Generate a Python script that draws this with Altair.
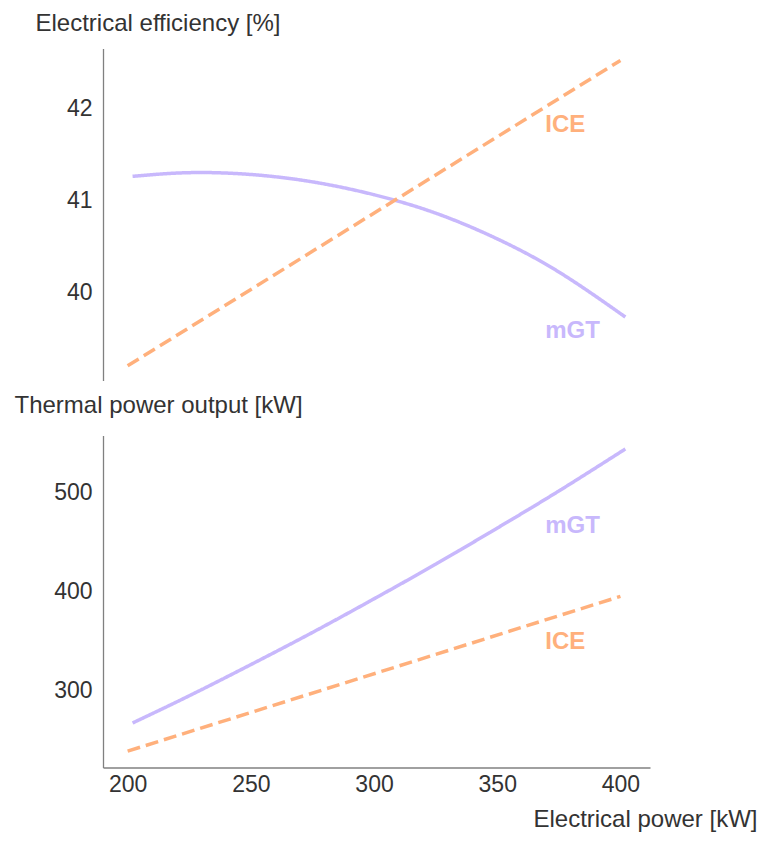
import altair as alt
import pandas as pd

# ---- data ----
x_mgt = [202, 225, 250, 275, 300, 325, 350, 375, 402]
eff_mgt = [41.26, 41.30, 41.28, 41.20, 41.06, 40.86, 40.58, 40.22, 39.73]
th_mgt = [267, 294.5, 326, 358.5, 392.5, 427.5, 464, 501.5, 544]

x_ice = [200, 400]
eff_ice = [39.20, 42.52]
th_ice = [238.5, 395]

lab_series = ["ICE", "mGT"]
lab_x = [369.5, 369.5]
lab_eff = [41.82, 39.58]
lab_th = [348.7, 466.6]

PURPLE = "#c8b8fc"
ORANGE = "#ffb07c"
FONT = "Liberation Sans"

eff_df = pd.DataFrame(
    {"x": x_mgt + x_ice, "y": eff_mgt + eff_ice,
     "series": ["mGT"] * len(x_mgt) + ["ICE"] * len(x_ice)})
th_df = pd.DataFrame(
    {"x": x_mgt + x_ice, "y": th_mgt + th_ice,
     "series": ["mGT"] * len(x_mgt) + ["ICE"] * len(x_ice)})
lab_eff_df = pd.DataFrame({"x": lab_x, "y": lab_eff, "series": lab_series})
lab_th_df = pd.DataFrame({"x": lab_x, "y": lab_th, "series": lab_series})

color = alt.Color("series:N", scale=alt.Scale(domain=["mGT", "ICE"], range=[PURPLE, ORANGE]), legend=None)
dash = alt.StrokeDash("series:N", scale=alt.Scale(domain=["mGT", "ICE"], range=[[1, 0], [13, 6]]), legend=None)
xscale = alt.Scale(domain=[190, 412], nice=False, zero=False)

W, H = 547, 332


def panel(df, labdf, ydomain, yvals, ytitle, tx, ty, show_x):
    if show_x:
        xenc = alt.X("x:Q", scale=xscale, axis=alt.Axis(
            values=[200, 250, 300, 350, 400], format="d", title="Electrical power [kW]",
            titleX=654, titleY=52, titleAlign="right", titleBaseline="middle"))
    else:
        xenc = alt.X("x:Q", scale=xscale, axis=None)
    yenc = alt.Y("y:Q", scale=alt.Scale(domain=ydomain, nice=False, zero=False),
                 axis=alt.Axis(values=yvals, format="d", title=ytitle, titleAngle=0, titleAlign="left",
                               titleBaseline="middle", titleX=tx, titleY=ty))
    lines = alt.Chart(df).mark_line(strokeWidth=3.5, interpolate="natural", strokeCap="butt").encode(
        x=xenc, y=yenc, color=color, strokeDash=dash, detail="series:N")
    texts = alt.Chart(labdf).mark_text(align="left", baseline="middle", fontWeight="bold",
                                       fontSize=24, font=FONT).encode(
        x=alt.X("x:Q", scale=xscale), y=alt.Y("y:Q"), text="series:N", color=color)
    return alt.layer(lines, texts).properties(width=W, height=H)


top = panel(eff_df, lab_eff_df, [39.04, 42.65], [40, 41, 42], "Electrical efficiency [%]", -68, -25.5, False)
bottom = panel(th_df, lab_th_df, [222, 557.6], [300, 400, 500], "Thermal power output [kW]", -89, -30, True)

chart = alt.vconcat(top, bottom, spacing=13).properties(
    padding={"left": 6, "top": 2.5, "right": 0, "bottom": 0}
).configure_view(stroke=None).configure_axis(
    grid=False, ticks=False, domainColor="#808080", domainWidth=1.3,
    labelFont=FONT, labelFontSize=23, labelColor="#333333", labelPadding=11,
    titleFont=FONT, titleFontSize=24, titleFontWeight="normal", titleColor="#333333"
).configure_axisX(labelPadding=6)

chart.save("out.html", embed_options={"renderer": "svg", "actions": False})
